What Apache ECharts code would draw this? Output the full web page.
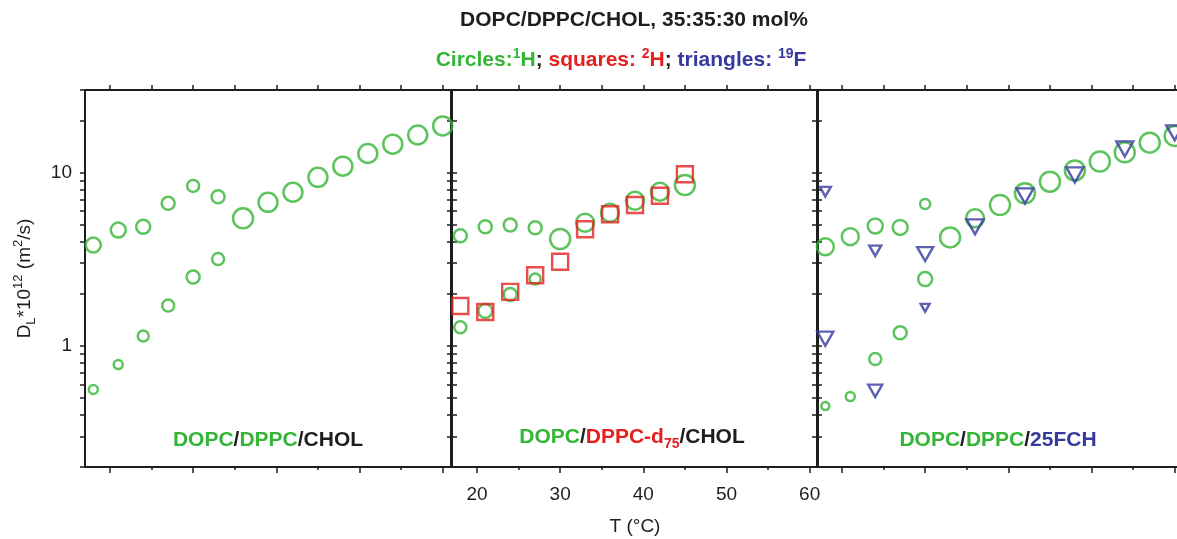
<!DOCTYPE html>
<html>
<head>
<meta charset="utf-8">
<script src="https://cdn.jsdelivr.net/npm/echarts@6/dist/echarts.min.js"></script>
<style>
html, body { margin: 0; padding: 0; background: #fff; }
#main { width: 1177px; height: 539px; }
</style>
</head>
<body>
<div id="main"></div>
<script>
// temperatures (°C)
const temps = [18, 21, 24, 27, 30, 33, 36, 39, 42, 45, 48, 51, 54, 57, 60];
const triTemps = [18, 24, 30, 36, 42, 48, 54, 60];

// panel 1: DOPC/DPPC/CHOL, 1H
const p1High = [3.82, 4.66, 4.87, 6.65, 8.38, 7.26, 5.45, 6.74, 7.71, 9.40, 10.9, 12.9, 14.6, 16.5, 18.6];
const p1Low = [0.56, 0.78, 1.14, 1.71, 2.50, 3.17];

// panel 2: DOPC/DPPC-d75/CHOL, 1H circles + 2H squares
const p2High = [4.32, 4.87, 4.99, 4.81, 4.14, 5.14, 5.87, 6.89, 7.77, 8.49];
const p2Low = [1.28, 1.59, 1.98, 2.43];
const p2Square = [1.70, 1.57, 2.05, 2.56, 3.06, 4.71, 5.75, 6.51, 7.36, 9.79];

// panel 3: DOPC/DPPC/25FCH, 1H circles + 19F triangles
const p3High = [3.73, 4.27, 4.92, 4.83, 6.59, 4.23, 5.45, 6.51, 7.60, 8.87, 10.3, 11.6, 13.1, 14.9, 16.3];
const p3Low = [0.45, 0.51, 0.84, 1.19, 2.43];
const p3TriHigh = [7.77, 3.54, 3.39, 4.87, 7.34, 9.70, 13.7, 17.0];
const p3TriLow = [1.10, 0.55, 1.66];

// tick values
const xMajor = [20, 30, 40, 50, 60];
const xMinor = [25, 35, 45, 55];
const xAll = [20, 25, 30, 35, 40, 45, 50, 55, 60];
const yTicks = [0.2, 0.3, 0.4, 0.5, 0.6, 0.7, 0.8, 0.9, 1, 2, 3, 4, 5, 6, 7, 8, 9, 10, 20, 30];
const yLabels = [1, 10];

// marker sizes (px), per point
const p1HighSize = [15, 15, 14, 13, 12, 13, 20, 19, 19, 19, 19, 19, 19, 19, 19];
const p1LowSize = [9, 9, 11, 12, 13, 12];
const p2HighSize = [13, 13, 13, 13, 20, 18, 18, 18, 18, 20];
const p2LowSize = [12, 14, 13, 11];
const p3HighSize = [17, 17, 15, 15, 10, 20, 18, 20, 20, 20, 20, 20, 20, 20, 20];
const p3LowSize = [8, 9, 12, 13, 14];
const triHighSize = [11, 12, 16, 17, 17, 17, 17, 17];
const triLowSize = [16, 14, 9];

const GREEN = '#35b535';
const RED = '#e3201f';
const BLUE = '#353a9e';
const INK = '#1e1e1e';
const FONT = 'Liberation Sans, Arial, Helvetica, sans-serif';

const panelLeft = [85, 452, 817];
const panelW = 366;
const gridTop = 90;
const gridH = 377;

const pairs = (xs, ys) => ys.map((v, i) => [xs[i], v]);

const grids = [];
const xAxes = [];
const yAxes = [];
panelLeft.forEach(function (left, g) {
    grids.push({ left: left, top: gridTop, width: panelW, height: gridH, containLabel: false, outerBoundsMode: 'none' });
    const lineStyle = { color: INK, width: 2 };
    // bottom major
    xAxes.push({
        gridIndex: g, type: 'value', position: 'bottom', min: 17, max: 61,
        axisLine: { show: true, lineStyle: lineStyle },
        axisTick: { show: true, inside: false, length: 6, customValues: xMajor, lineStyle: { color: INK, width: 1.5 } },
        axisLabel: { show: g === 1, customValues: xMajor, margin: 18, fontSize: 19, color: INK, fontFamily: FONT },
        splitLine: { show: false },
        name: g === 1 ? 'T (°C)' : '',
        nameLocation: 'middle', nameGap: 50,
        nameTextStyle: { fontSize: 19, color: INK, fontFamily: FONT }
    });
    // bottom minor
    xAxes.push({
        gridIndex: g, type: 'value', position: 'bottom', min: 17, max: 61,
        axisLine: { show: false },
        axisTick: { show: true, inside: false, length: 3, customValues: xMinor, lineStyle: { color: INK, width: 1.5 } },
        axisLabel: { show: false },
        splitLine: { show: false }
    });
    // top frame
    xAxes.push({
        gridIndex: g, type: 'value', position: 'top', min: 17, max: 61,
        axisLine: { show: true, lineStyle: lineStyle },
        axisTick: { show: true, inside: false, length: 5, customValues: xAll, lineStyle: { color: INK, width: 1.5 } },
        axisLabel: { show: false },
        splitLine: { show: false }
    });
    // left, ticks outside
    yAxes.push({
        gridIndex: g, type: 'log', logBase: 10, position: 'left', min: 0.2, max: 30,
        axisLine: { show: true, lineStyle: lineStyle },
        axisTick: { show: true, inside: false, length: 5, customValues: yTicks, lineStyle: { color: INK, width: 1.5 } },
        axisLabel: { show: g === 0, customValues: yLabels, margin: 13, fontSize: 19, color: INK, fontFamily: FONT },
        splitLine: { show: false },
        name: g === 0 ? '{n|D}{sub|L}{n|*10}{sup|12}{n| (m}{sup|2}{n|/s)}' : '',
        nameLocation: 'middle', nameRotate: 90, nameGap: 47,
        nameTextStyle: {
            color: INK, fontFamily: FONT,
            rich: {
                n: { fontSize: 19, color: INK, fontFamily: FONT, lineHeight: 26, verticalAlign: 'middle' },
                sub: { fontSize: 13, color: INK, fontFamily: FONT, lineHeight: 26, verticalAlign: 'bottom' },
                sup: { fontSize: 13, color: INK, fontFamily: FONT, lineHeight: 26, verticalAlign: 'top' }
            }
        }
    });
    // left, ticks inside (panels 2 and 3 have ticks across the divider)
    yAxes.push({
        gridIndex: g, type: 'log', logBase: 10, position: 'left', min: 0.2, max: 30,
        axisLine: { show: false },
        axisTick: { show: g > 0, inside: true, length: 5, customValues: yTicks, lineStyle: { color: INK, width: 1.5 } },
        axisLabel: { show: false },
        splitLine: { show: false }
    });
    // right frame
    yAxes.push({
        gridIndex: g, type: 'log', logBase: 10, position: 'right', min: 0.2, max: 30,
        axisLine: { show: true, lineStyle: lineStyle },
        axisTick: { show: false },
        axisLabel: { show: false },
        splitLine: { show: false }
    });
});

function circles(g, data, sizes) {
    return {
        type: 'scatter', xAxisIndex: g * 3, yAxisIndex: g * 3,
        data: data, symbol: 'circle',
        symbolSize: (v, p) => sizes[p.dataIndex],
        itemStyle: { color: 'rgba(0,0,0,0)', borderColor: GREEN, borderWidth: 2.5 },
        emphasis: { disabled: true }, z: 3
    };
}

const series = [
    circles(0, pairs(temps, p1High), p1HighSize),
    circles(0, pairs(temps, p1Low), p1LowSize),
    circles(1, pairs(temps, p2High), p2HighSize),
    circles(1, pairs(temps, p2Low), p2LowSize),
    {
        type: 'scatter', xAxisIndex: 3, yAxisIndex: 3,
        data: pairs(temps, p2Square), symbol: 'rect', symbolSize: 16,
        itemStyle: { color: 'rgba(0,0,0,0)', borderColor: RED, borderWidth: 2.4 },
        emphasis: { disabled: true }, z: 4
    },
    circles(2, pairs(temps, p3High), p3HighSize),
    circles(2, pairs(temps, p3Low), p3LowSize),
    {
        type: 'scatter', xAxisIndex: 6, yAxisIndex: 6,
        data: pairs(triTemps, p3TriHigh), symbol: 'triangle', symbolRotate: 180,
        symbolSize: (v, p) => [triHighSize[p.dataIndex], triHighSize[p.dataIndex] * 0.88],
        itemStyle: { color: 'rgba(0,0,0,0)', borderColor: BLUE, borderWidth: 2.4 },
        emphasis: { disabled: true }, z: 4
    },
    {
        type: 'scatter', xAxisIndex: 6, yAxisIndex: 6,
        data: pairs(triTemps, p3TriLow), symbol: 'triangle', symbolRotate: 180,
        symbolSize: (v, p) => [triLowSize[p.dataIndex], triLowSize[p.dataIndex] * 0.88],
        itemStyle: { color: 'rgba(0,0,0,0)', borderColor: BLUE, borderWidth: 2.4 },
        emphasis: { disabled: true }, z: 4
    }
];

function label(x, y, text, rich) {
    return {
        text: text, left: x, top: y, textAlign: 'center', textVerticalAlign: 'middle', padding: 0,
        textStyle: { rich: rich }
    };
}

const panelRich = {
    g: { color: GREEN, fontSize: 21, fontWeight: 'bold', fontFamily: FONT },
    r: { color: RED, fontSize: 21, fontWeight: 'bold', fontFamily: FONT, lineHeight: 28 },
    rs: { color: RED, fontSize: 14, fontWeight: 'bold', fontFamily: FONT, lineHeight: 28, verticalAlign: 'bottom' },
    b: { color: BLUE, fontSize: 21, fontWeight: 'bold', fontFamily: FONT },
    k: { color: INK, fontSize: 21, fontWeight: 'bold', fontFamily: FONT }
};

const legendRich = {
    g: { color: GREEN, fontSize: 21, fontWeight: 'bold', fontFamily: FONT, lineHeight: 26 },
    gs: { color: GREEN, fontSize: 14, fontWeight: 'bold', fontFamily: FONT, lineHeight: 26, verticalAlign: 'top' },
    r: { color: RED, fontSize: 21, fontWeight: 'bold', fontFamily: FONT, lineHeight: 26 },
    rs: { color: RED, fontSize: 14, fontWeight: 'bold', fontFamily: FONT, lineHeight: 26, verticalAlign: 'top' },
    b: { color: BLUE, fontSize: 21, fontWeight: 'bold', fontFamily: FONT, lineHeight: 26 },
    bs: { color: BLUE, fontSize: 14, fontWeight: 'bold', fontFamily: FONT, lineHeight: 26, verticalAlign: 'top' },
    k: { color: INK, fontSize: 21, fontWeight: 'bold', fontFamily: FONT, lineHeight: 26 }
};

const titles = [
    label(634, 20, '{k|DOPC/DPPC/CHOL, 35:35:30 mol%}', legendRich),
    label(621, 60, '{g|Circles:}{gs|1}{g|H}{k|; }{r|squares: }{rs|2}{r|H}{k|; }{b|triangles: }{bs|19}{b|F}', legendRich),
    label(268, 440, '{g|DOPC}{k|/}{g|DPPC}{k|/CHOL}', panelRich),
    label(632, 437, '{g|DOPC}{k|/}{r|DPPC-d}{rs|75}{k|/CHOL}', panelRich),
    label(998, 440, '{g|DOPC}{k|/}{g|DPPC}{k|/}{b|25FCH}', panelRich)
];

const chart = echarts.init(document.getElementById('main'));
chart.setOption({
    animation: false,
    backgroundColor: '#fff',
    title: titles,
    grid: grids,
    xAxis: xAxes,
    yAxis: yAxes,
    series: series
});
</script>
</body>
</html>
